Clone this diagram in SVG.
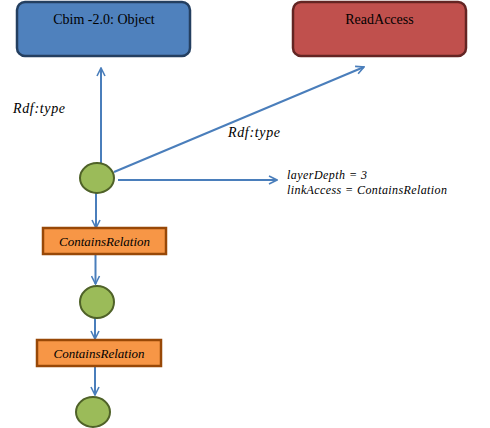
<svg xmlns="http://www.w3.org/2000/svg" width="490" height="428" viewBox="0 0 490 428">
<style>
svg text, g text{font-family:'Liberation Serif','Times New Roman',serif !important}
.c{stroke:#4a7ebb;stroke-width:2;fill:none}
.blank{fill:#9bbb59;stroke:#4f6228;stroke-width:2}
.rel{fill:#f79646;stroke:#984807;stroke-width:2.5}
</style>
<defs>
<marker id="a" viewBox="0 0 10 10" refX="9" refY="5" markerWidth="10" markerHeight="10" markerUnits="userSpaceOnUse" orient="auto">
<path d="M1,1 L9,5 L1,9" fill="none" stroke="#4a7ebb" stroke-width="1.6"/>
</marker>
</defs>
<g id="connectors">
<line class="c" x1="101" y1="164" x2="101" y2="68" marker-end="url(#a)"/>
<line class="c" x1="114" y1="172" x2="364" y2="67" marker-end="url(#a)"/>
<line class="c" x1="118" y1="180" x2="277" y2="180" marker-end="url(#a)"/>
<line class="c" x1="96" y1="193" x2="96" y2="228" marker-end="url(#a)"/>
<line class="c" x1="95.5" y1="255" x2="95.5" y2="284" marker-end="url(#a)"/>
<line class="c" x1="95" y1="318" x2="95" y2="339" marker-end="url(#a)"/>
<line class="c" x1="95" y1="367" x2="95" y2="395" marker-end="url(#a)"/>
<text x="13" y="113" font-size="14" font-style="italic" font-family="Liberation Serif" style="font-family:'Liberation Serif',serif !important" textLength="52">Rdf:type</text>
<text x="228" y="137" font-size="14" font-style="italic" font-family="Liberation Serif" style="font-family:'Liberation Serif',serif !important" textLength="52">Rdf:type</text>
<text x="287" y="179" font-size="12" font-style="italic" font-family="Liberation Serif" style="font-family:'Liberation Serif',serif !important" textLength="80">layerDepth = 3</text>
<text x="287" y="194" font-size="12" font-style="italic" font-family="Liberation Serif" style="font-family:'Liberation Serif',serif !important" textLength="160">linkAccess = ContainsRelation</text>
</g>
<g id="object">
<rect x="17" y="2" width="173" height="54" rx="8" fill="#4f81bd" stroke="#243f60" stroke-width="2.5"/>
<text x="104" y="24" font-size="14" font-family="Liberation Serif" style="font-family:'Liberation Serif',serif !important" text-anchor="middle">Cbim -2.0: Object</text>
</g>
<g id="readaccess">
<rect x="293" y="2" width="173" height="54" rx="8" fill="#c0504d" stroke="#632523" stroke-width="2.5"/>
<text x="379.5" y="24" font-size="14" font-family="Liberation Serif" style="font-family:'Liberation Serif',serif !important" text-anchor="middle">ReadAccess</text>
</g>
<g id="n1"><ellipse class="blank" cx="97" cy="178" rx="17" ry="15"/></g>
<g id="r1">
<rect class="rel" x="43" y="228" width="123" height="26"/>
<text x="104.5" y="246" font-size="13" font-style="italic" font-family="Liberation Serif" style="font-family:'Liberation Serif',serif !important" text-anchor="middle">ContainsRelation</text>
</g>
<g id="n2"><ellipse class="blank" cx="97" cy="302" rx="17" ry="16"/></g>
<g id="r2">
<rect class="rel" x="37" y="340" width="124" height="26"/>
<text x="99" y="358" font-size="13" font-style="italic" font-family="Liberation Serif" style="font-family:'Liberation Serif',serif !important" text-anchor="middle">ContainsRelation</text>
</g>
<g id="n3"><ellipse class="blank" cx="93" cy="412" rx="17" ry="15"/></g>
</svg>
